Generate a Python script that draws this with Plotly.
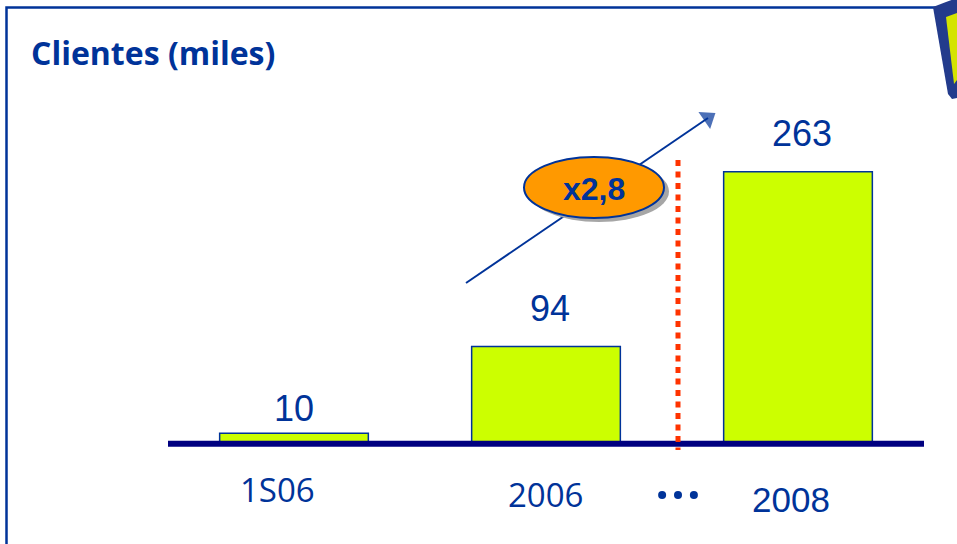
import plotly.graph_objects as go

# --- data ---
categories = ["1S06", "2006", "2008"]
clientes = [10, 94, 263]
value_labels = ["10", "94", "263"]
growth_label = "x2,8"
title_text = "Clientes (miles)"

# --- styling ---
NAVY = "#003399"
AXIS_NAVY = "#000080"
LIME = "#CCFF00"
ORANGE = "#FF9900"
RED = "#FF3300"

W, H = 957, 544
PX_PER_CAT = 252.0
PX_PER_UNIT = 1.0342
X0_PX = 294.0          # pixel of the first category centre
Y0_PX = 443.7          # pixel of the value 0

x_range = [-X0_PX / PX_PER_CAT, (W - X0_PX) / PX_PER_CAT]
y_range = [-(H - Y0_PX) / PX_PER_UNIT, Y0_PX / PX_PER_UNIT]


def px_to_x(px):
    return (px - X0_PX) / PX_PER_CAT


def px_to_y(py):
    return (Y0_PX - py) / PX_PER_UNIT


def paper(px, py):
    return px / W, 1 - py / H


fig = go.Figure()

fig.add_trace(go.Bar(
    x=list(range(len(categories))),
    y=clientes,
    width=0.59,
    marker=dict(color=LIME, line=dict(color=NAVY, width=1.5)),
    hoverinfo="skip",
))

# growth arrow between 2006 and 2008
arrow_x = [px_to_x(466), px_to_x(708)]
arrow_y = [px_to_y(283), px_to_y(118)]
fig.add_trace(go.Scatter(
    x=arrow_x, y=arrow_y,
    mode="lines+markers",
    line=dict(color=NAVY, width=2),
    marker=dict(symbol=["circle", "triangle-up"], size=[0, 18], color=NAVY,
                angleref="previous", line=dict(width=0)),
    hoverinfo="skip",
))

# separator position (broken time axis)
sep_x = px_to_x(678)
dot_offsets = [-0.063, 0.0, 0.063]
fig.add_trace(go.Scatter(
    x=[sep_x + d for d in dot_offsets],
    y=[px_to_y(495)] * 3,
    mode="markers",
    marker=dict(color=NAVY, size=8),
    hoverinfo="skip",
))

shapes = []

# panel frame
bx0, by0 = paper(6.5, 7.5)
shapes.append(dict(type="rect", xref="paper", yref="paper",
                   x0=bx0, x1=1.2, y0=-0.2, y1=by0,
                   line=dict(color=NAVY, width=2.5), fillcolor="rgba(0,0,0,0)",
                   layer="above"))

# baseline
shapes.append(dict(type="line", xref="x", yref="y",
                   x0=-0.5, x1=len(categories) - 0.5, y0=0, y1=0,
                   line=dict(color=AXIS_NAVY, width=6), layer="above"))

# dotted separator
shapes.append(dict(type="line", xref="x", yref="y",
                   x0=sep_x, x1=sep_x, y0=px_to_y(160), y1=px_to_y(450),
                   line=dict(color=RED, width=5, dash="6px,5.5px"), layer="above"))

# growth ellipse with shadow
ex0, ex1, ey0, ey1 = 524, 664, 157, 218
shapes.append(dict(type="circle", xref="x", yref="y",
                   x0=px_to_x(ex0 + 5), x1=px_to_x(ex1 + 5),
                   y0=px_to_y(ey1 + 4), y1=px_to_y(ey0 + 4),
                   fillcolor="#A6A6A6", line=dict(width=0), layer="above"))
shapes.append(dict(type="circle", xref="x", yref="y",
                   x0=px_to_x(ex0), x1=px_to_x(ex1),
                   y0=px_to_y(ey1), y1=px_to_y(ey0),
                   fillcolor=ORANGE, line=dict(color=NAVY, width=2), layer="above"))


# corner emblem
def path_from(points):
    pts = [paper(a, b) for a, b in points]
    return "M" + " L".join(f"{u:.4f},{v:.4f}" for u, v in pts) + " Z"


shapes.append(dict(type="path", xref="paper", yref="paper",
                   path=path_from([(933, 7), (946, 2), (957, -2), (957, 98),
                                   (952, 99), (948, 94)]),
                   fillcolor="#233B8C", line=dict(width=0), layer="above"))
shapes.append(dict(type="path", xref="paper", yref="paper",
                   path=path_from([(946, 17), (957, 13), (957, 80), (954, 84)]),
                   fillcolor="#D4E400", line=dict(width=0), layer="above"))

annotations = []

# title
tx, ty = paper(29, 52)
annotations.append(dict(xref="paper", yref="paper", x=tx, y=ty,
                        xanchor="left", yanchor="middle", showarrow=False,
                        text=f"<b>{title_text}</b>",
                        font=dict(family="Open Sans", size=32, color=NAVY)))

# value labels above bars
value_shift = [25, 38, 38]
for i, (v, lab) in enumerate(zip(clientes, value_labels)):
    annotations.append(dict(x=i, y=v, xref="x", yref="y", showarrow=False,
                            xanchor="center", yanchor="middle",
                            xshift=[0, 4, 4][i], yshift=value_shift[i],
                            text=lab,
                            font=dict(family="Liberation Sans, Arial", size=36, color=NAVY)))

# category labels below the baseline
cat_xshift = [-17, -1, -7]
cat_yshift = [-46, -51, -56]
cat_fonts = ["Open Sans", "Open Sans", "Liberation Sans, Arial"]
cat_sizes = [33, 33, 35]
for i, c in enumerate(categories):
    annotations.append(dict(x=i, y=0, xref="x", yref="y", showarrow=False,
                            xanchor="center", yanchor="middle",
                            xshift=cat_xshift[i], yshift=cat_yshift[i],
                            text=c,
                            font=dict(family=cat_fonts[i], size=cat_sizes[i], color=NAVY)))

# growth factor text
annotations.append(dict(x=px_to_x(594), y=px_to_y(189), xref="x", yref="y",
                        showarrow=False, xanchor="center", yanchor="middle",
                        text=f"<b>{growth_label}</b>",
                        font=dict(family="Liberation Sans, Arial", size=32, color=NAVY)))

fig.update_layout(
    width=W, height=H,
    margin=dict(l=0, r=0, t=0, b=0),
    paper_bgcolor="white", plot_bgcolor="white",
    showlegend=False,
    xaxis=dict(range=x_range, visible=False, fixedrange=True),
    yaxis=dict(range=y_range, visible=False, fixedrange=True),
    shapes=shapes,
    annotations=annotations,
)

fig.write_html("out.html", config={"displayModeBar": False})
